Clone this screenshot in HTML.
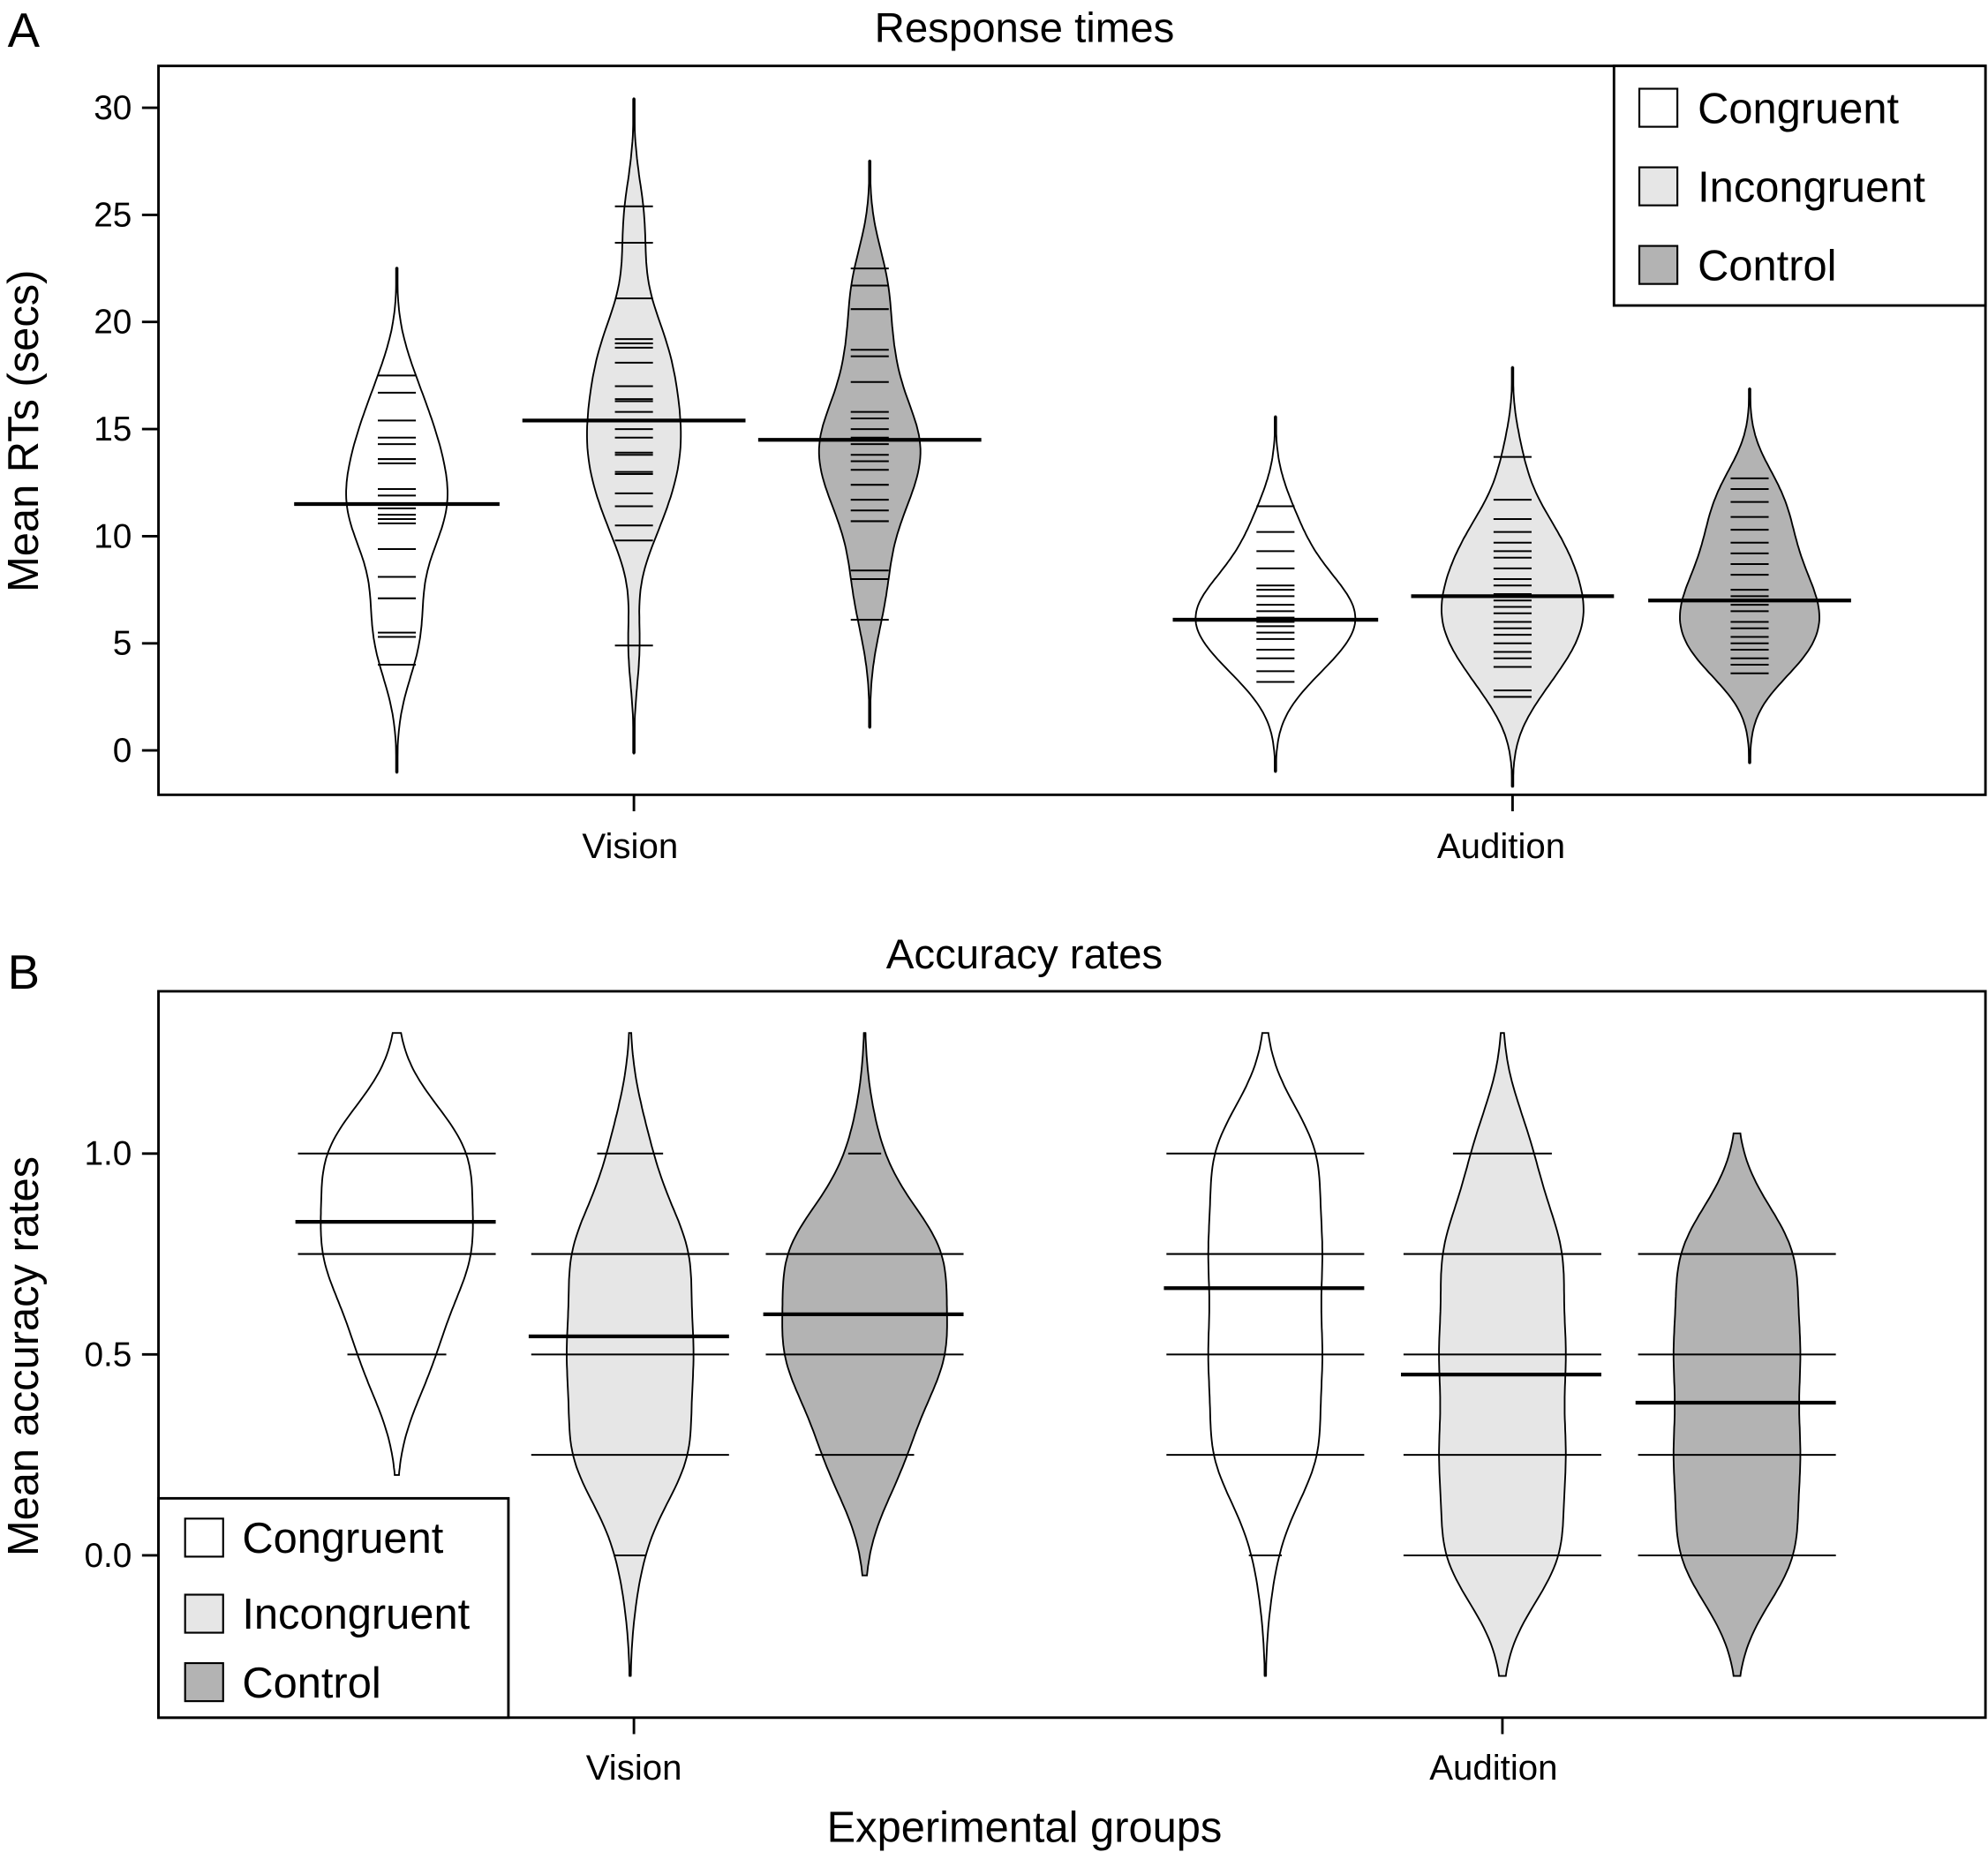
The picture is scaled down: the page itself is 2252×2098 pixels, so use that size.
<!DOCTYPE html>
<html><head><meta charset="utf-8"><style>
html,body{margin:0;padding:0;background:#fff;}
svg{display:block;font-family:"Liberation Sans",Arial,sans-serif;}
</style></head><body>
<svg id="chart" width="2252" height="2098" viewBox="0 0 1568 1461" preserveAspectRatio="none" xmlns="http://www.w3.org/2000/svg">
<rect x="0" y="0" width="1568" height="1461" fill="#fff"/>
<g id="panelA">
<text x="6" y="37" font-size="38">A</text>
<text x="808" y="33" font-size="33" text-anchor="middle">Response times</text>
<rect x="125" y="52" width="1441" height="575" fill="none" stroke="#000" stroke-width="2"/>
<text transform="translate(30,340) rotate(-90)" font-size="34" text-anchor="middle">Mean RTs (secs)</text>
<text x="497" y="677" font-size="28" text-anchor="middle">Vision</text>
<text x="1184" y="677" font-size="28" text-anchor="middle">Audition</text>
<line x1="500" y1="627" x2="500" y2="640" stroke="#000" stroke-width="2"/>
<line x1="1193" y1="627" x2="1193" y2="640" stroke="#000" stroke-width="2"/>
</g>
<g id="panelB">
<text x="6" y="780" font-size="38">B</text>
<text x="808" y="764" font-size="33" text-anchor="middle">Accuracy rates</text>
<rect x="125" y="782" width="1441" height="573" fill="none" stroke="#000" stroke-width="2"/>
<text transform="translate(30,1070) rotate(-90)" font-size="34" text-anchor="middle">Mean accuracy rates</text>
<text x="500" y="1404" font-size="28" text-anchor="middle">Vision</text>
<text x="1178" y="1404" font-size="28" text-anchor="middle">Audition</text>
<text x="808" y="1453" font-size="34" text-anchor="middle">Experimental groups</text>
<line x1="500" y1="1355" x2="500" y2="1368" stroke="#000" stroke-width="2"/>
<line x1="1185" y1="1355" x2="1185" y2="1368" stroke="#000" stroke-width="2"/>
</g>
</svg>
<script>
// ---- Panel A data ----
const aTicks = [0,5,10,15,20,25,30];
const aVisCong = [17.5,16.7,15.4,14.6,14.3,13.6,13.4,12.2,11.9,11.3,11.0,10.8,10.6,9.4,8.1,7.1,5.5,5.3,4.0];
const aVisIncong = [25.4,23.7,21.1,19.2,19.0,18.8,18.1,17.0,16.4,16.3,15.8,15.0,14.6,13.9,13.8,13.0,12.9,12.0,11.4,10.5,9.8,4.9];
const aVisCtrl = [22.5,21.7,20.6,18.7,18.4,17.2,15.8,15.5,15.0,14.6,14.3,13.8,13.5,13.1,12.4,11.7,11.2,10.7,8.4,8.0,6.1];
const aAudCong = [11.4,10.2,9.3,8.5,7.7,7.5,7.2,6.8,6.5,6.2,6.0,5.8,5.5,5.2,4.7,4.3,3.7,3.2];
const aAudIncong = [13.7,11.7,10.8,10.2,9.7,9.3,9.0,8.5,8.0,7.7,7.3,7.0,6.7,6.4,6.0,5.7,5.4,5.0,4.6,4.3,3.9,2.8,2.5];
const aAudCtrl = [12.7,12.2,11.6,10.9,10.3,9.7,9.2,8.7,8.2,7.5,7.2,7.0,6.8,6.5,6.0,5.7,5.3,5.0,4.7,4.3,4.0,3.6];
const aMeans = [11.5,15.4,14.5,6.1,7.2,7.0];
// ---- Panel B data ----
const bTicks = [0.0,0.5,1.0];
const bValues = [1.0,0.75,0.5,0.25,0.0];
const bVisCong = [6,6,3,0,0];
const bVisIncong = [2,6,6,6,1];
const bVisCtrl = [1,6,6,3,0];
const bAudCong = [6,6,6,6,1];
const bAudIncong = [3,6,6,6,6];
const bAudCtrl = [0,6,6,6,6];
const bMeans = [0.83,0.545,0.60,0.665,0.45,0.38];

const NS="http://www.w3.org/2000/svg";
const gA=document.getElementById('panelA'), gB=document.getElementById('panelB');
const yA=v=>592-v*(592-85)/30;
const yB=v=>1227-v*317;
const fills=['#ffffff','#e6e6e6','#b3b3b3'];
function mk(tag,attrs,parent){const e=document.createElementNS(NS,tag);for(const k in attrs)e.setAttribute(k,attrs[k]);parent.appendChild(e);return e;}

function violin(parent,name,cx,vals,wts,bw,maxHalf,yf,fill,lo,hi){
  const l=mk('line',{x1:cx,x2:cx,y1:yf(hi),y2:yf(lo),stroke:'#000','stroke-width':2.5},parent);
  
  
  const steps=120,pts=[];let mx=0;
  for(let i=0;i<=steps;i++){const y=lo+(hi-lo)*i/steps;let d=0;
    vals.forEach((v,j)=>{const w=wts?wts[j]:1;d+=w*Math.exp(-0.5*Math.pow((y-v)/bw,2));});
    pts.push([y,d]);if(d>mx)mx=d;}
  let dstr='';
  pts.forEach((p,i)=>{dstr+=(i?'L':'M')+(cx+p[1]/mx*maxHalf).toFixed(1)+' '+yf(p[0]).toFixed(1);});
  for(let i=pts.length-1;i>=0;i--){dstr+='L'+(cx-pts[i][1]/mx*maxHalf).toFixed(1)+' '+yf(pts[i][0]).toFixed(1);}
  dstr+='Z';
  const p=mk('path',{d:dstr,fill:fill,stroke:'#000','stroke-width':1.3},parent);
  
  
}

aTicks.forEach(t=>{
  mk('line',{x1:112,x2:125,y1:yA(t),y2:yA(t),stroke:'#000','stroke-width':2},gA);
  const tx=mk('text',{x:104,y:yA(t)+9,'font-size':27,'text-anchor':'end'},gA);tx.textContent=t;
  
  
});
const aSets=[aVisCong,aVisIncong,aVisCtrl,aAudCong,aAudIncong,aAudCtrl];
const aCx=[313,500,686,1006,1193,1380];
const aHalf=[40,37,40,63,56,55];
const aMeanHalf=[81,88,88,81,80,80];
const aNames=['vision-congruent','vision-incongruent','vision-control','audition-congruent','audition-incongruent','audition-control'];
aSets.forEach((s,i)=>{
  const mn=Math.min(...s),mx=Math.max(...s),bw=i<3?1.8:1.5;
  violin(gA,'a-'+aNames[i],aCx[i],s,null,bw,aHalf[i],yA,fills[i%3],mn-2.8*bw,mx+2.8*bw);
  s.forEach(v=>{const r=mk('line',{x1:aCx[i]-15,x2:aCx[i]+15,y1:yA(v),y2:yA(v),stroke:'#000','stroke-width':1.4},gA);
    
    });
  const m=mk('line',{x1:aCx[i]-aMeanHalf[i],x2:aCx[i]+aMeanHalf[i],y1:yA(aMeans[i]),y2:yA(aMeans[i]),stroke:'#000','stroke-width':3},gA);
  
  
});

bTicks.forEach(t=>{
  mk('line',{x1:112,x2:125,y1:yB(t),y2:yB(t),stroke:'#000','stroke-width':2},gB);
  const tx=mk('text',{x:104,y:yB(t)+9,'font-size':27,'text-anchor':'end'},gB);tx.textContent=t.toFixed(1);
  
  
});
const bSets=[bVisCong,bVisIncong,bVisCtrl,bAudCong,bAudIncong,bAudCtrl];
const bCx=[313,497,682,998,1185,1370];
const bHalf=[60,50,65,45,50,50];
bSets.forEach((c,i)=>{
  const used=bValues.filter((v,j)=>c[j]>0);
  const mn=Math.min(...used),mx=Math.max(...used),bw=0.13;
  violin(gB,'b-'+aNames[i],bCx[i],bValues,c,bw,bHalf[i],yB,fills[i%3],mn-0.3,mx+0.3);
  bValues.forEach((v,j)=>{if(!c[j])return;const hw=Math.min(78,13*c[j]);
    const r=mk('line',{x1:bCx[i]-hw,x2:bCx[i]+hw,y1:yB(v),y2:yB(v),stroke:'#000','stroke-width':1.4},gB);
    
    });
  const m=mk('line',{x1:bCx[i]-80,x2:bCx[i]+78,y1:yB(bMeans[i]),y2:yB(bMeans[i]),stroke:'#000','stroke-width':3},gB);
  
  
});

function legend(parent,name,bx,by,bw,bh,sx,sys,tx){
  const g=mk('g',{},parent);
  
  
  mk('rect',{x:bx,y:by,width:bw,height:bh,fill:'#fff',stroke:'#000','stroke-width':2},g);
  ['Congruent','Incongruent','Control'].forEach((lab,i)=>{
    const r=mk('rect',{x:sx,y:sys[i],width:30,height:30,fill:fills[i],stroke:'#000','stroke-width':1.5},g);
    
    
    const t=mk('text',{x:tx,y:sys[i]+27,'font-size':34},g);t.textContent=lab;
    
    
  });
}
legend(gA,'legend-a',1273,52,293,189,1293,[70,132,194],1339);
legend(gB,'legend-b',125,1182,276,173,146,[1198,1258,1312],191);
</script>
</body></html>
